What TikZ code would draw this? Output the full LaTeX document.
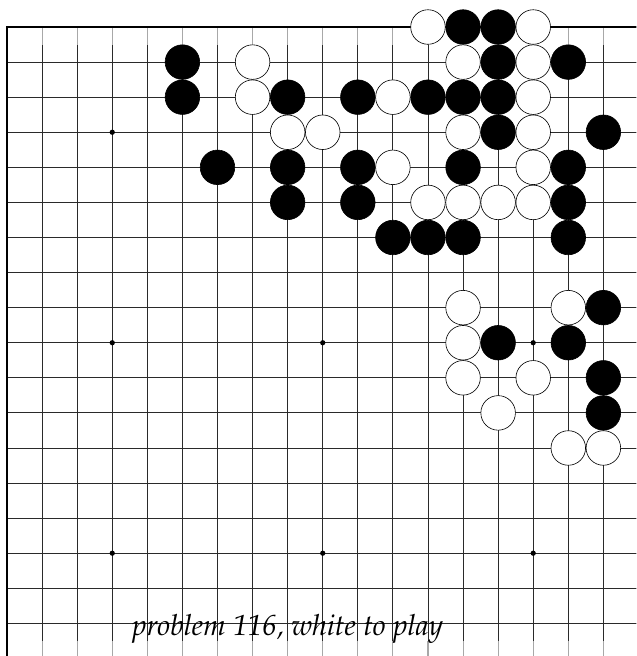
\documentclass[tikz,border=0pt]{standalone}
\usepackage[T1]{fontenc}
\usetikzlibrary{positioning}
\definecolor{gridc}{HTML}{2A2A2A}
\definecolor{stub}{HTML}{A8A8A8}
\tikzset{
  gridl/.style={draw=gridc, line width=0.7pt},
  edgel/.style={draw=black, line width=1.1pt},
  stubl/.style={draw=stub, line width=0.9pt},
  bstone/.style={circle, fill=black, draw=black, line width=0.5pt, minimum size=0.985cm, inner sep=0pt},
  wstone/.style={circle, fill=white, draw=black, line width=0.5pt, minimum size=0.985cm, inner sep=0pt},
  hoshi/.style={circle, fill=black, minimum size=1.5mm, inner sep=0pt},
  caption/.style={font=\fontsize{23.6}{28}\fontfamily{ppl}\itshape\selectfont, anchor=base, inner sep=0pt},
}

\begin{document}
\begin{tikzpicture}
\path[use as bounding box] (-0.2,0.77) rectangle (17.94,-17.93);
\clip (-0.2,0.77) rectangle (17.94,-17.93);
% ---- grid ----
\foreach \r in {1,...,18}{ \draw[gridl] (0,-\r) -- (18.6,-\r); }
\foreach \c in {1,...,18}{
   \draw[gridl] (\c,-0.5) -- (\c,-17.5);
   \draw[stubl] (\c,0) -- (\c,-0.5);
   \draw[stubl] (\c,-17.5) -- (\c,-18.6);
}
\draw[edgel] (0,-18.6) -- (0,0) -- (18.6,0);
% ---- star points ----
\foreach \c in {3,9,15}{ \foreach \r in {3,9,15}{ \node[hoshi] (h-\c-\r) at (\c,-\r) {}; } }
% ---- black stones ----
\foreach \c/\r in {13/0,14/0,5/1,14/1,16/1,5/2,8/2,10/2,12/2,13/2,14/2,14/3,17/3,
                   6/4,8/4,10/4,13/4,16/4,8/5,10/5,16/5,11/6,12/6,13/6,16/6,
                   17/8,14/9,16/9,17/10,17/11}{
   \node[bstone] (b-\c-\r) at (\c,-\r) {};
}
% ---- white stones ----
\foreach \c/\r in {12/0,15/0,7/1,13/1,15/1,7/2,11/2,15/2,8/3,9/3,13/3,15/3,11/4,15/4,
                   12/5,13/5,14/5,15/5,13/8,16/8,13/9,13/10,15/10,14/11,16/12,17/12}{
   \node[wstone] (w-\c-\r) at (\c,-\r) {};
}
\node[caption] (cap) at (8.0,-17.34) {problem 116, white to play};
\end{tikzpicture}
\end{document}
